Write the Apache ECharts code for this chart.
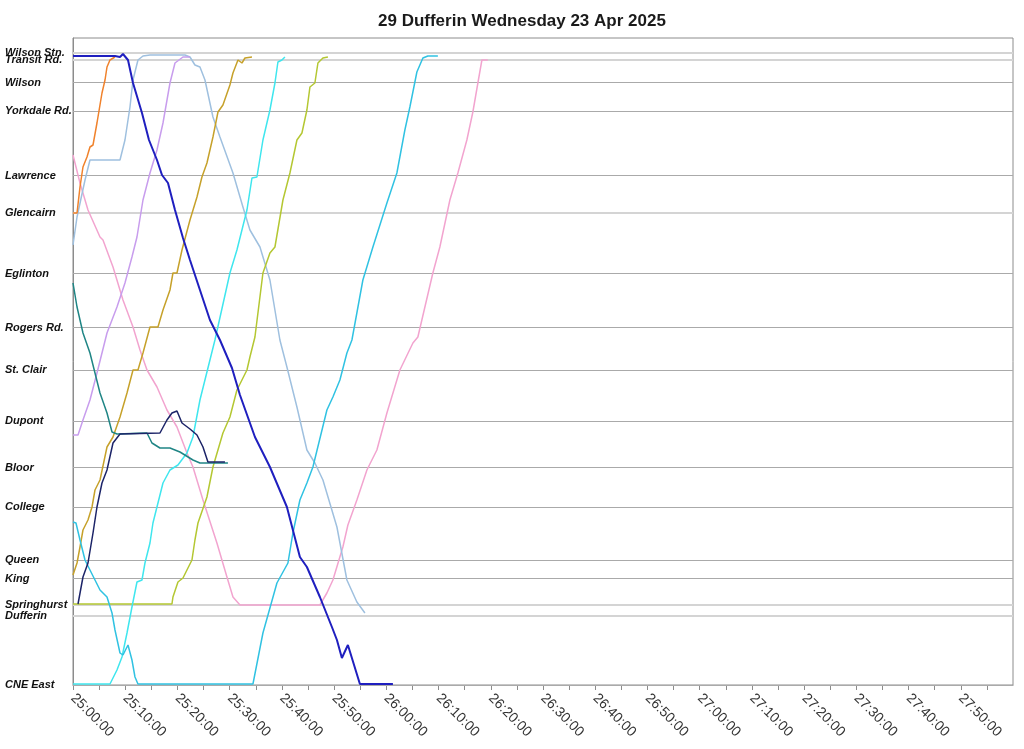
<!DOCTYPE html>
<html>
<head>
<meta charset="utf-8">
<script src="https://cdn.jsdelivr.net/npm/echarts@6/dist/echarts.min.js"></script>
<style>
html,body{margin:0;padding:0;background:#fff;}
#chart{width:1024px;height:749px;}
</style>
</head>
<body>
<div id="chart"></div>
<script>
// ---- stops (distance from CNE East, km) ----
var stopNames = ['Wilson Stn.', 'Transit Rd.', 'Wilson', 'Yorkdale Rd.', 'Lawrence', 'Glencairn', 'Eglinton', 'Rogers Rd.', 'St. Clair', 'Dupont', 'Bloor', 'College', 'Queen', 'King', 'Springhurst', 'Dufferin', 'CNE East'];
var stopKm = [12.65, 12.51, 12.05, 11.48, 10.19, 9.45, 8.23, 7.15, 6.30, 5.28, 4.35, 3.56, 2.50, 2.13, 1.61, 1.39, 0];
var lightStops = ['Wilson Stn.', 'Transit Rd.', 'Glencairn', 'Springhurst', 'Dufferin'];
// labels that sit too close to a neighbour go on a second (overlay) axis
var overlayStops = ['Transit Rd.'];

// ---- time axis: minutes after 25:00:00 ----
var timeMin = 0, timeMax = 180, tickStep = 5, labelStep = 10;

// ---- trips: [minutes after 25:00, km from CNE East] ----
var tripOrange = [[0,9.44],[0.77,9.44],[1.34,9.96],[1.91,10.36],[2.68,10.56],[3.25,10.76],[3.83,10.80],[4.59,11.24],[5.55,11.84],[6.13,12.10],[6.51,12.36],[7.08,12.50],[8.04,12.56]];
var tripBlue = [[0,12.58],[8.04,12.58],[9.0,12.56],[9.57,12.62],[10.53,12.50],[11.49,12.04],[13.21,11.44],[14.55,10.90],[16.08,10.50],[17.04,10.20],[18.19,10.04],[19.53,9.50],[21.06,8.94],[22.40,8.50],[24.31,7.90],[26.22,7.30],[28.14,6.90],[30.44,6.34],[31.97,5.80],[34.84,4.96],[37.71,4.36],[40.96,3.56],[43.45,2.56],[44.79,2.36],[47.28,1.76],[49.58,1.16],[50.54,0.90],[51.49,0.54],[52.64,0.80],[54.94,0.02],[61.26,0.02]];
var tripLightBlue = [[0,8.80],[0.77,9.36],[2.30,10.10],[3.25,10.50],[9.0,10.50],[9.95,10.90],[10.91,11.56],[11.49,12.10],[12.44,12.50],[13.40,12.58],[14.74,12.60],[21.44,12.60],[22.40,12.56],[23.35,12.40],[24.31,12.36],[25.27,12.10],[26.80,11.36],[28.14,10.96],[30.63,10.24],[32.54,9.56],[33.88,9.10],[35.80,8.76],[37.71,8.10],[39.62,6.90],[40.96,6.36],[42.88,5.56],[44.79,4.70],[46.32,4.44],[47.86,4.10],[50.54,3.16],[52.45,2.10],[54.36,1.66],[55.90,1.44]];
var tripPink = [[0,10.60],[1.34,10.04],[2.87,9.50],[5.17,8.96],[5.74,8.90],[7.66,8.36],[9.57,7.70],[11.49,7.16],[12.83,6.70],[14.17,6.30],[16.08,5.96],[17.99,5.50],[19.91,5.16],[21.82,4.64],[22.97,4.36],[24.89,3.70],[27.56,2.84],[29.48,2.16],[30.63,1.76],[31.97,1.60],[47.28,1.60],[48.62,1.84],[49.77,2.10],[51.68,2.76],[52.64,3.20],[54.36,3.70],[56.28,4.30],[58.19,4.70],[60.11,5.44],[62.60,6.30],[65.09,6.84],[66.04,6.96],[68.91,8.24],[70.25,8.76],[72.17,9.70],[73.70,10.24],[75.42,10.90],[76.57,11.46],[77.53,12.04],[78.30,12.50],[79.44,12.50]];
var tripViolet = [[0,5.00],[0.96,5.00],[1.91,5.30],[3.25,5.70],[4.59,6.24],[6.51,7.04],[8.42,7.56],[9.95,8.04],[11.29,8.56],[12.25,8.96],[13.40,9.70],[14.74,10.24],[16.08,10.70],[17.23,11.24],[18.57,12.04],[19.53,12.44],[21.06,12.56],[22.40,12.56]];
var tripTeal = [[0,8.04],[0.77,7.56],[1.91,7.04],[3.25,6.64],[4.21,6.24],[5.17,5.84],[6.51,5.44],[7.47,5.06],[8.42,5.02],[14.17,5.04],[15.12,4.84],[16.65,4.74],[18.57,4.74],[20.48,4.66],[22.97,4.50],[24.31,4.44],[29.67,4.44]];
var tripNavy = [[0.96,1.62],[1.91,2.16],[2.87,2.44],[3.83,3.04],[4.59,3.56],[5.55,4.04],[6.51,4.30],[7.66,4.84],[9.0,5.02],[16.65,5.04],[17.99,5.30],[18.95,5.44],[19.91,5.48],[20.87,5.24],[22.40,5.12],[23.74,5.00],[24.89,4.76],[25.84,4.46],[29.10,4.46]];
var tripGold = [[0,2.20],[0.77,2.44],[1.34,2.76],[1.91,3.10],[2.87,3.30],[3.64,3.56],[4.21,3.90],[5.17,4.10],[6.51,4.76],[7.66,4.96],[9.0,5.36],[10.34,5.84],[11.49,6.30],[12.44,6.30],[13.40,6.64],[14.74,7.16],[16.27,7.16],[17.23,7.50],[18.57,7.90],[19.14,8.24],[19.91,8.24],[20.87,8.70],[22.40,9.30],[23.74,9.76],[24.69,10.16],[25.65,10.44],[26.80,10.96],[27.76,11.46],[28.71,11.60],[30.05,12.00],[30.63,12.24],[31.59,12.50],[32.35,12.44],[32.93,12.54],[34.27,12.56]];
var tripAqua = [[0,0.02],[7.08,0.02],[8.42,0.30],[9.38,0.56],[10.34,1.04],[11.29,1.56],[12.25,2.06],[13.21,2.10],[13.78,2.44],[14.74,2.84],[15.31,3.24],[16.27,3.64],[17.23,4.04],[18.57,4.30],[20.10,4.40],[21.82,4.64],[22.97,4.96],[24.31,5.70],[27.18,6.90],[30.05,8.24],[31.39,8.70],[33.31,9.50],[34.27,10.14],[35.22,10.16],[36.37,10.90],[37.71,11.50],[38.67,12.04],[39.24,12.46],[40.01,12.50],[40.58,12.56]];
var tripSky = [[0,3.26],[0.57,3.24],[1.34,2.90],[2.30,2.50],[3.25,2.30],[4.21,2.10],[5.17,1.90],[6.51,1.76],[7.47,1.44],[8.04,1.10],[9.0,0.64],[9.57,0.60],[10.53,0.80],[11.29,0.50],[11.87,0.16],[12.44,0.02],[34.46,0.02],[36.37,1.04],[39.05,2.04],[41.16,2.44],[42.11,3.04],[43.45,3.70],[44.79,4.04],[45.94,4.36],[48.62,5.50],[49.77,5.76],[51.11,6.10],[52.45,6.64],[53.41,6.90],[55.51,8.10],[57.43,8.76],[60.11,9.64],[62.02,10.24],[63.55,11.10],[64.51,11.56],[65.85,12.26],[67.00,12.54],[67.96,12.58],[69.87,12.58]];
var tripLime = [[0,1.62],[18.95,1.62],[19.14,1.76],[20.10,2.06],[21.06,2.14],[21.82,2.30],[22.78,2.50],[23.35,2.90],[23.93,3.24],[25.65,3.76],[26.80,4.36],[28.71,5.04],[30.05,5.36],[31.39,5.90],[33.31,6.30],[33.88,6.56],[34.84,6.96],[36.37,8.24],[37.71,8.64],[38.67,8.76],[40.20,9.70],[41.54,10.24],[42.88,10.90],[43.84,11.04],[44.79,11.50],[45.37,11.96],[46.32,12.04],[46.90,12.44],[47.86,12.54],[48.81,12.56]];

var trips = [tripPink, tripLightBlue, tripViolet, tripOrange, tripGold, tripLime, tripAqua, tripSky, tripTeal, tripNavy, tripBlue];
var tripColors = ['#f2a4cf', '#9fc0df', '#c89ded', '#f0822c', '#c6a12a', '#b4c732', '#3fe6ee', '#30c2e2', '#1f8585', '#1c2468', '#1f1fbf'];
var tripWidths = [1.5, 1.5, 1.5, 1.5, 1.5, 1.5, 1.5, 1.5, 1.5, 1.5, 2];

function fmtTime(v) {
  var h = 25 + Math.floor(v / 60);
  var m = Math.round(v % 60);
  return h + ':' + (m < 10 ? '0' : '') + m + ':00';
}
function stopName(v) {
  for (var i = 0; i < stopKm.length; i++) if (Math.abs(stopKm[i] - v) < 1e-6) return stopNames[i];
  return '';
}
var mainLabelValues = stopKm.filter(function (km, i) { return overlayStops.indexOf(stopNames[i]) < 0; });
var overlayLabelValues = stopKm.filter(function (km, i) { return overlayStops.indexOf(stopNames[i]) >= 0; });

var gridLines = stopKm.map(function (km, i) {
  var light = lightStops.indexOf(stopNames[i]) >= 0;
  return {
    yAxis: km,
    lineStyle: light ? { color: '#d4d4d4', width: 2, type: 'solid' } : { color: '#aaaaaa', width: 1, type: 'solid' }
  };
});

var series = [{
  type: 'line',
  data: [],
  silent: true,
  z: 1,
  markLine: {
    silent: true,
    symbol: ['none', 'none'],
    label: { show: false },
    animation: false,
    data: gridLines
  }
}];
trips.forEach(function (t, i) {
  series.push({
    type: 'line',
    data: t,
    showSymbol: false,
    symbol: 'none',
    z: 10,
    lineStyle: { color: tripColors[i], width: tripWidths[i] },
    itemStyle: { color: tripColors[i] }
  });
});

var stopLabelStyle = {
  align: 'left',
  margin: 68,
  fontFamily: 'Liberation Sans, Arial, sans-serif',
  fontSize: 11,
  fontWeight: 'bold',
  fontStyle: 'italic',
  color: '#111',
  formatter: function (v) { return stopName(v); }
};

var chart = echarts.init(document.getElementById('chart'), null, { renderer: 'canvas' });
chart.setOption({
  animation: false,
  backgroundColor: '#ffffff',
  title: {
    text: '29 Dufferin Wednesday 23 Apr 2025',
    left: 373,
    top: 8,
    textStyle: { fontFamily: 'Liberation Sans, Arial, sans-serif', fontSize: 17, fontWeight: 'bold', color: '#1a1a1a' }
  },
  grid: { left: 73, right: 11, top: 38, bottom: 64, show: true, borderColor: '#8c8c8c', borderWidth: 1, backgroundColor: 'transparent' },
  xAxis: {
    type: 'value',
    min: timeMin,
    max: timeMax,
    interval: tickStep,
    axisLine: { show: true, lineStyle: { color: '#8c8c8c', width: 1 } },
    axisTick: { show: true, length: 5, lineStyle: { color: '#8c8c8c' } },
    splitLine: { show: false },
    axisLabel: {
      rotate: -45,
      margin: 11,
      fontFamily: 'Liberation Sans, Arial, sans-serif',
      fontSize: 14,
      color: '#333',
      showMaxLabel: false,
      formatter: function (v) {
        if (v % labelStep !== 0 || v >= timeMax) return '';
        return fmtTime(v);
      }
    }
  },
  yAxis: [{
    type: 'value',
    min: 0,
    max: 12.94,
    axisLine: { show: true, lineStyle: { color: '#8c8c8c', width: 1 } },
    axisTick: { show: false },
    splitLine: { show: false },
    axisLabel: Object.assign({ customValues: mainLabelValues, showMinLabel: true, showMaxLabel: true }, stopLabelStyle)
  }, {
    type: 'value',
    position: 'left',
    offset: 0,
    min: 0,
    max: 12.94,
    axisLine: { show: false },
    axisTick: { show: false },
    splitLine: { show: false },
    axisLabel: Object.assign({ customValues: overlayLabelValues, showMinLabel: true, showMaxLabel: true }, stopLabelStyle)
  }],
  series: series
});
</script>
</body>
</html>
